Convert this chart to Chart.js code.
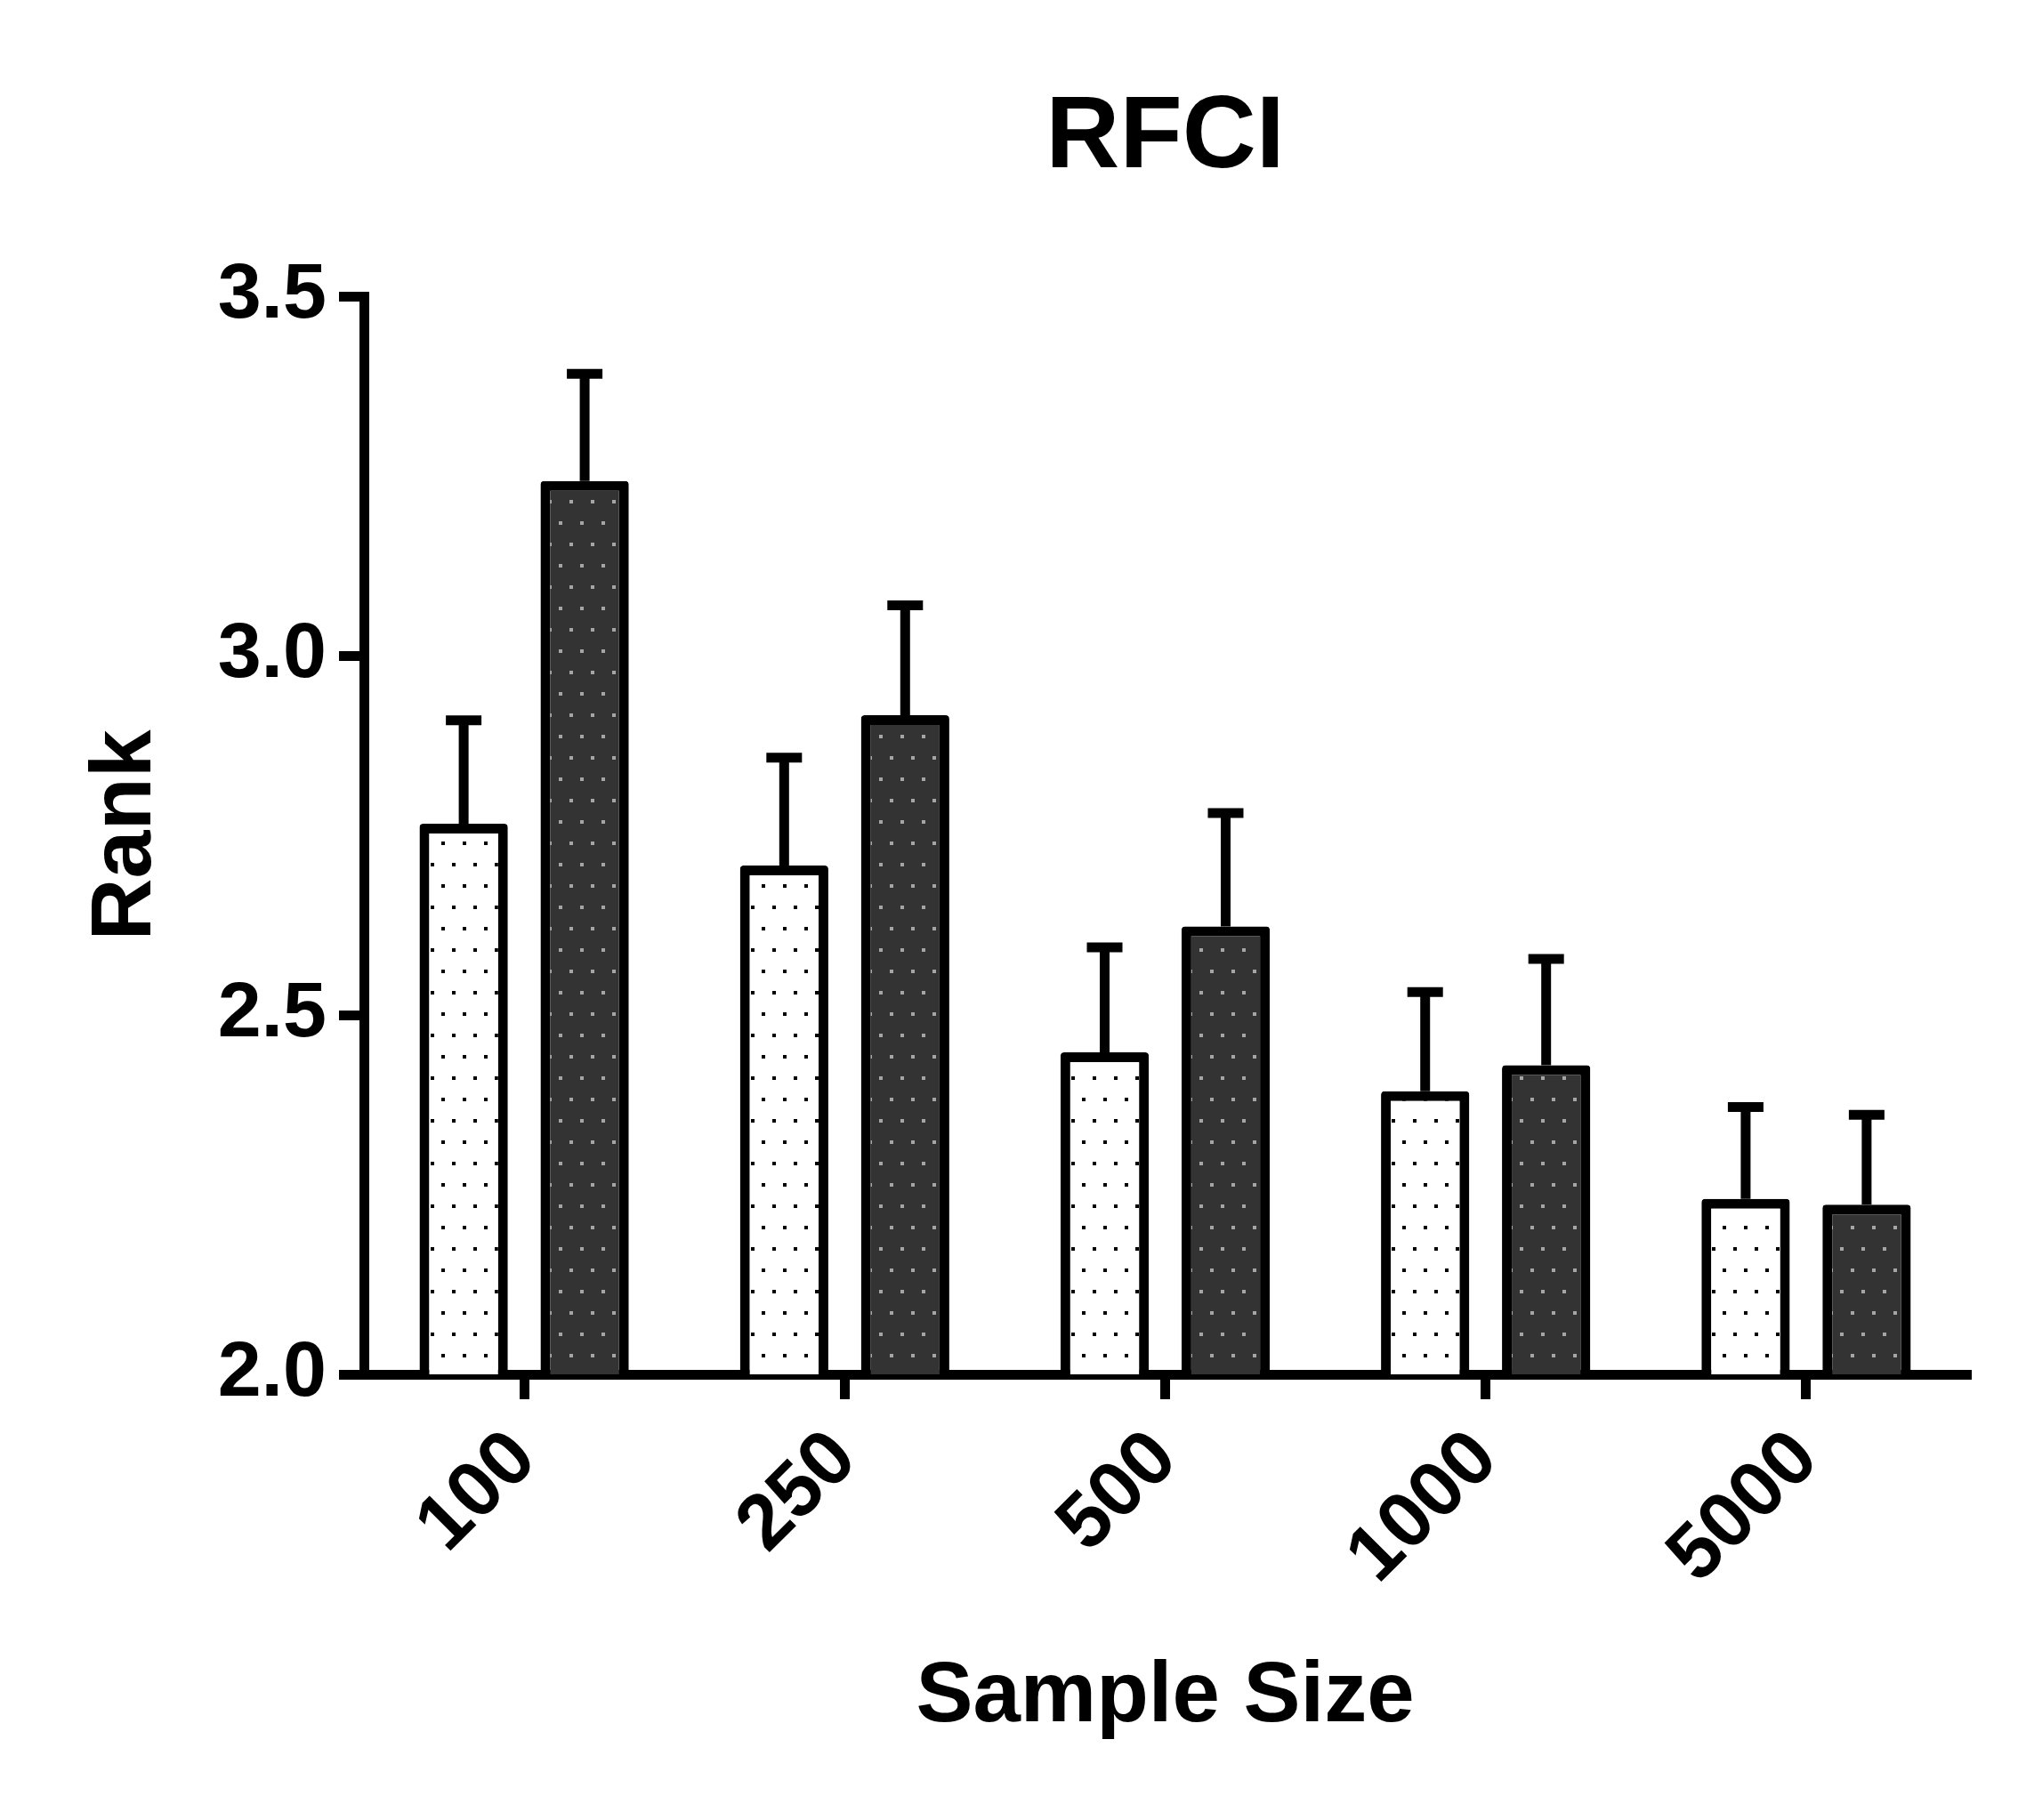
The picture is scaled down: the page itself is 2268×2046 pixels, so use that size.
<!DOCTYPE html>
<html>
<head>
<meta charset="utf-8">
<script src="https://cdn.jsdelivr.net/npm/chart.js@4.4.1/dist/chart.umd.min.js"></script>
<style>
  html, body { margin: 0; padding: 0; background: #fff; }
  #wrap { width: 2268px; height: 2046px; }
</style>
</head>
<body>
<div id="wrap"><canvas id="chart" width="2268" height="2046"></canvas></div>
<script>
// values (bar top = mean, whisker = upper error)
const categories = ['100', '250', '500', '1000', '5000'];
const lightMeans = [2.766, 2.708, 2.448, 2.394, 2.244];
const lightErrors = [0.144, 0.150, 0.146, 0.138, 0.128];
const darkMeans = [3.243, 2.917, 2.623, 2.430, 2.236];
const darkErrors = [0.149, 0.153, 0.158, 0.148, 0.125];
const yTickValues = [2.0, 2.5, 3.0, 3.5];

const FONT = '"Liberation Sans", Arial, Helvetica, sans-serif';

// small staggered dot grid, like the Prism fill
function dotPattern(bg, dot) {
  const c = document.createElement('canvas');
  c.width = 24;
  c.height = 48;
  const g = c.getContext('2d');
  g.fillStyle = bg;
  g.fillRect(0, 0, 24, 48);
  g.fillStyle = dot;
  g.fillRect(4, 10, 4, 4);
  g.fillRect(16, 34, 4, 4);
  return g.createPattern(c, 'repeat');
}

const errorBars = {
  id: 'errorBars',
  afterDatasetsDraw(chart) {
    const ctx = chart.ctx;
    const yScale = chart.scales.y;
    ctx.save();
    ctx.strokeStyle = '#000';
    ctx.lineWidth = 11;
    ctx.lineCap = 'butt';
    chart.data.datasets.forEach((ds, i) => {
      chart.getDatasetMeta(i).data.forEach((bar, j) => {
        const top = yScale.getPixelForValue(ds.data[j] + ds.errors[j]);
        ctx.beginPath();
        ctx.moveTo(bar.x, bar.y);
        ctx.lineTo(bar.x, top);
        ctx.moveTo(bar.x - 20, top);
        ctx.lineTo(bar.x + 20, top);
        ctx.stroke();
      });
    });
    ctx.restore();
  }
};

new Chart(document.getElementById('chart'), {
  type: 'bar',
  data: {
    labels: categories,
    datasets: [{
      label: 'light',
      data: lightMeans,
      errors: lightErrors,
      backgroundColor: dotPattern('#ffffff', '#000000'),
      borderColor: '#000',
      borderWidth: 11,
      borderRadius: 4,
      categoryPercentage: 0.755,
      barPercentage: 0.73
    }, {
      label: 'dark',
      data: darkMeans,
      errors: darkErrors,
      backgroundColor: dotPattern('#333333', '#a6a6a6'),
      borderColor: '#000',
      borderWidth: 11,
      borderRadius: 4,
      categoryPercentage: 0.755,
      barPercentage: 0.73
    }]
  },
  options: {
    responsive: false,
    animation: false,
    devicePixelRatio: 1,
    layout: { padding: { left: 0, right: 58, top: 0, bottom: 0 } },
    plugins: {
      legend: { display: false },
      tooltip: { enabled: false },
      title: {
        display: true,
        fullSize: false,
        text: 'RFCI',
        color: '#000',
        font: { family: FONT, size: 115, weight: 'bold' },
        padding: { top: 87, bottom: 108 }
      }
    },
    scales: {
      x: {
        offset: true,
        afterFit(scale) { scale.height = 2046 - 1545; },
        grid: {
          offset: false,
          drawOnChartArea: false,
          tickLength: 28,
          lineWidth: 11,
          color: '#000'
        },
        border: { display: true, width: 11, color: '#000' },
        ticks: {
          color: '#000',
          padding: 16,
          maxRotation: 45,
          minRotation: 45,
          font: { family: FONT, size: 88, weight: 'bold' }
        },
        title: {
          display: true,
          text: 'Sample Size',
          color: '#000',
          font: { family: FONT, size: 96, weight: 'bold' },
          padding: { top: 0, bottom: 80 }
        }
      },
      y: {
        min: 2,
        max: 3.5,
        afterFit(scale) { scale.width = 409; },
        afterBuildTicks(scale) { scale.ticks = yTickValues.map(v => ({ value: v })); },
        grid: {
          drawOnChartArea: false,
          tickLength: 28,
          lineWidth: 11,
          color: '#000'
        },
        border: { display: true, width: 11, color: '#000' },
        ticks: {
          color: '#000',
          padding: 14,
          font: { family: FONT, size: 88, weight: 'bold' },
          callback: v => v.toFixed(1)
        },
        title: {
          display: true,
          text: 'Rank',
          color: '#000',
          font: { family: FONT, size: 97, weight: 'bold' },
          padding: { top: 84, bottom: 0 }
        }
      }
    }
  },
  plugins: [errorBars]
});
</script>
</body>
</html>
